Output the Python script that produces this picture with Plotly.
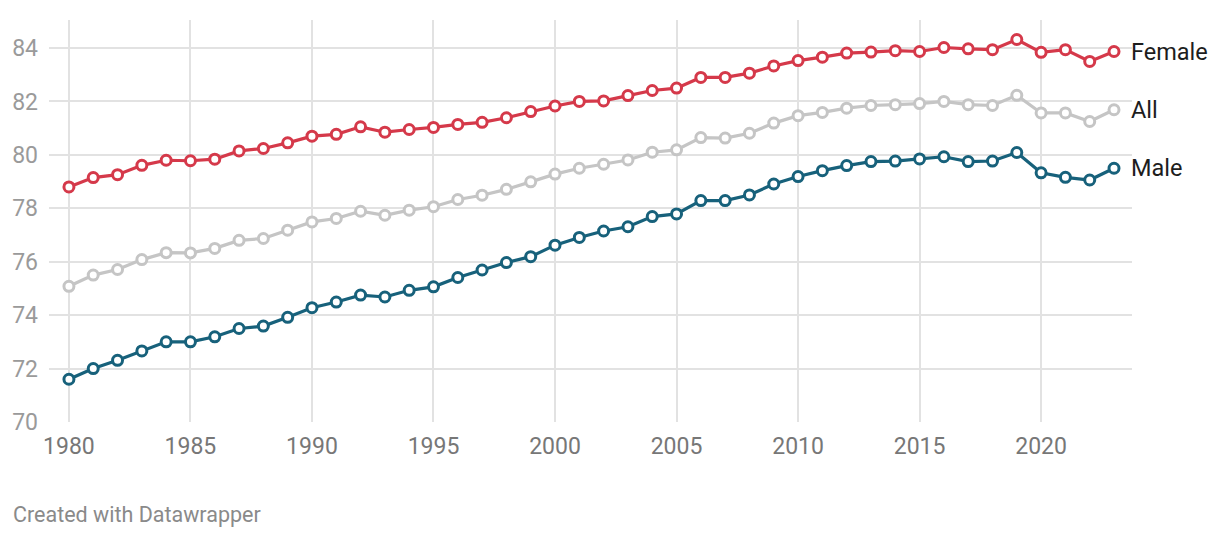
import plotly.graph_objects as go

years = list(range(1980, 2024))

female = [78.8, 79.15, 79.26, 79.61, 79.8, 79.78, 79.84, 80.15, 80.24, 80.45,
          80.7, 80.77, 81.05, 80.85, 80.95, 81.03, 81.14, 81.22, 81.39, 81.62,
          81.83, 82.0, 82.02, 82.22, 82.41, 82.5, 82.9, 82.9, 83.06, 83.33,
          83.53, 83.66, 83.81, 83.85, 83.9, 83.87, 84.02, 83.97, 83.94, 84.32,
          83.84, 83.94, 83.5, 83.87]

all_people = [75.08, 75.5, 75.71, 76.08, 76.34, 76.33, 76.5, 76.8, 76.87, 77.18,
              77.49, 77.62, 77.89, 77.74, 77.93, 78.06, 78.33, 78.49, 78.71, 78.99,
              79.28, 79.5, 79.65, 79.81, 80.1, 80.19, 80.65, 80.63, 80.81, 81.19,
              81.47, 81.59, 81.75, 81.85, 81.88, 81.92, 82.0, 81.88, 81.85, 82.23,
              81.57, 81.57, 81.25, 81.69]

male = [71.6, 72.0, 72.31, 72.66, 73.0, 73.0, 73.19, 73.5, 73.59, 73.92,
        74.28, 74.49, 74.75, 74.68, 74.93, 75.06, 75.41, 75.69, 75.97, 76.19,
        76.62, 76.91, 77.15, 77.31, 77.69, 77.79, 78.29, 78.29, 78.5, 78.91,
        79.19, 79.41, 79.6, 79.75, 79.77, 79.85, 79.93, 79.75, 79.77, 80.09,
        79.33, 79.16, 79.06, 79.5]

series_names = ["Female", "All", "Male"]
series_values = [female, all_people, male]
series_colors = ["#d5394a", "#c5c5c5", "#17617b"]

y_ticks = [70, 72, 74, 76, 78, 80, 82, 84]
x_ticks = [1980, 1985, 1990, 1995, 2000, 2005, 2010, 2015, 2020]

fig = go.Figure()
for name, vals, col in zip(series_names, series_values, series_colors):
    fig.add_trace(go.Scatter(
        x=years, y=vals, name=name, mode="lines+markers",
        line=dict(color=col, width=3.2),
        marker=dict(size=10, color="white", line=dict(color=col, width=3)),
        showlegend=False,
    ))
    fig.add_annotation(
        x=years[-1], y=vals[-1], text=name, showarrow=False,
        xanchor="left", yanchor="middle", xshift=15,
        font=dict(family="Roboto", size=23.5, color="#1d1d1d"),
    )

fig.add_annotation(
    xref="paper", yref="paper", x=-0.0351, y=-0.229, xanchor="left", yanchor="middle",
    text="Created with Datawrapper", showarrow=False,
    font=dict(family="Roboto", size=21.5, color="#8a8a8a"),
)

fig.update_layout(
    width=1220, height=538,
    margin=dict(l=49, r=88, t=20, b=116),
    paper_bgcolor="white", plot_bgcolor="white",
    font=dict(family="Roboto"),
    xaxis=dict(
        range=[1979.18, 2023.74], tickvals=x_ticks,
        showgrid=True, gridcolor="#e2e2e2", gridwidth=2,
        zeroline=False, showline=False, ticks="",
        tickfont=dict(family="Roboto", size=23, color="#777777"),
        ticklabelstandoff=8,
    ),
    yaxis=dict(
        range=[70, 85.05], tickvals=y_ticks,
        showgrid=True, gridcolor="#e2e2e2", gridwidth=2,
        zeroline=False, showline=False, ticks="",
        tickfont=dict(family="Roboto", size=23, color="#9a9a9a"),
        ticklabelstandoff=10,
    ),
)

fig.write_html("out.html")
